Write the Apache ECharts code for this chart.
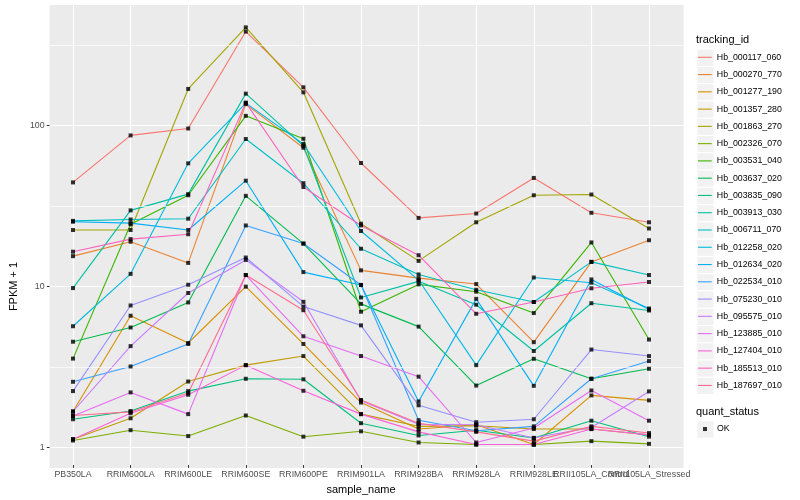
<!DOCTYPE html>
<html><head><meta charset="utf-8">
<script src="https://cdn.jsdelivr.net/npm/echarts@6/dist/echarts.min.js"></script>
<style>html,body{margin:0;padding:0;background:#fff}#c{width:800px;height:500px}</style>
</head><body><div id="c"></div>
<script>
// ---- data ----
const categories = ["PB350LA","RRIM600LA","RRIM600LE","RRIM600SE","RRIM600PE","RRIM901LA","RRIM928BA","RRIM928LA","RRIM928LE","RRII105LA_Control","RRII105LA_Stressed"];
const trackingIds = ["Hb_000117_060","Hb_000270_770","Hb_001277_190","Hb_001357_280","Hb_001863_270","Hb_002326_070","Hb_003531_040","Hb_003637_020","Hb_003835_090","Hb_003913_030","Hb_006711_070","Hb_012258_020","Hb_012634_020","Hb_022534_010","Hb_075230_010","Hb_095575_010","Hb_123885_010","Hb_127404_010","Hb_185513_010","Hb_187697_010"];
const Hb_000117_060 = [43.7, 86, 95, 384, 172, 57.8, 26.2, 27.9, 46.6, 28.2, 24.6];
const Hb_000270_770 = [15.1, 18.6, 13.7, 135, 72, 12.3, 11.0, 10.1, 4.37, 13.9, 19.0];
const Hb_001277_190 = [1.61, 6.4, 4.32, 9.73, 4.26, 1.83, 1.25, 1.33, 1.0, 2.03, 1.89];
const Hb_001357_280 = [1.08, 1.46, 2.48, 3.14, 3.58, 1.55, 1.3, 1.31, 1.25, 1.25, 1.15];
const Hb_001863_270 = [22.0, 22.0, 168, 408, 160, 24.1, 14.1, 24.6, 36.3, 36.7, 22.5];
const Hb_002326_070 = [1.06, 1.23, 1.13, 1.52, 1.12, 1.21, 1.03, 1.0, 1.0, 1.05, 1.01];
const Hb_003531_040 = [3.45, 23.9, 36.3, 114, 82, 6.78, 10.05, 9.05, 6.65, 18.4, 4.54];
const Hb_003637_020 = [4.4, 5.4, 7.75, 36, 18.1, 7.59, 5.47, 2.34, 3.44, 2.58, 2.98];
const Hb_003835_090 = [1.44, 1.62, 2.16, 2.58, 2.56, 1.36, 1.14, 1.23, 1.1, 1.41, 1.12];
const Hb_003913_030 = [9.53, 29.2, 36.9, 157, 74, 8.32, 10.5, 7.5, 3.85, 7.66, 6.9];
const Hb_006711_070 = [25.1, 25.6, 25.9, 81.7, 43.2, 16.8, 11.6, 9.3, 7.8, 13.9, 11.5];
const Hb_012258_020 = [5.5, 11.7, 57.5, 137, 76, 21.7, 10.7, 3.14, 11.1, 10.3, 7.1];
const Hb_012634_020 = [24.8, 24.3, 22.0, 44.8, 12.0, 9.97, 1.86, 8.16, 2.33, 10.8, 7.0];
const Hb_022534_010 = [2.47, 3.08, 4.26, 23.5, 18.1, 9.97, 1.42, 1.22, 1.3, 2.58, 3.33];
const Hb_075230_010 = [2.16, 7.42, 10.0, 14.8, 7.3, 5.57, 1.76, 1.38, 1.44, 3.93, 3.58];
const Hb_095575_010 = [1.61, 4.13, 8.88, 14.3, 7.82, 1.88, 1.34, 1.33, 1.1, 1.28, 2.15];
const Hb_123885_010 = [1.51, 2.12, 1.55, 11.5, 4.76, 3.58, 2.66, 1.03, 1.27, 2.18, 1.41];
const Hb_127404_010 = [1.08, 1.57, 2.05, 3.14, 2.17, 1.55, 1.2, 1.0, 1.0, 1.25, 1.15];
const Hb_185513_010 = [16.1, 19.3, 20.7, 138, 40.9, 23.5, 15.3, 6.58, 7.8, 9.5, 10.4];
const Hb_187697_010 = [1.52, 1.6, 2.1, 11.5, 6.93, 1.9, 1.36, 1.2, 1.05, 1.3, 1.18];
const seriesValues = [Hb_000117_060,Hb_000270_770,Hb_001277_190,Hb_001357_280,Hb_001863_270,Hb_002326_070,Hb_003531_040,Hb_003637_020,Hb_003835_090,Hb_003913_030,Hb_006711_070,Hb_012258_020,Hb_012634_020,Hb_022534_010,Hb_075230_010,Hb_095575_010,Hb_123885_010,Hb_127404_010,Hb_185513_010,Hb_187697_010];
const quantStatus = ["OK"];
const yTickValues = [1, 10, 100];
const yMinorBreaks = [3.1623, 31.623, 316.23];

// ---- styles ----
const palette = ["#F8766D","#EA8331","#D89000","#C09B00","#A3A500","#7CAE00","#39B600","#00BB4E","#00BF7D","#00C1A3","#00BFC4","#00BAE0","#00B0F6","#35A2FF","#9590FF","#C77CFF","#E76BF3","#FA62DB","#FF62BC","#FF6C91"];
const FONT = '"Liberation Sans", Arial, Helvetica, sans-serif';
const W = 800, H = 500;
const panel = {left: 38.4, right: 683.6, top: 5, bottom: 468};
const firstCat = 73, lastCat = 649;
const yMin = 0.7436, yMax = 563.2;
const keyH = 17.27, keyTop = 48.66, keyLeft = 696.3, okTop = 420.4;

const chart = echarts.init(document.getElementById('c'), null, {renderer: 'canvas', width: W, height: H});

const lineSeries = trackingIds.map((id, k) => ({
  type: 'line', name: id, xAxisIndex: 1, yAxisIndex: 1,
  data: seriesValues[k], symbol: 'none', showSymbol: false,
  color: palette[k],
  lineStyle: {width: 1.1, color: palette[k]},
  itemStyle: {color: palette[k]},
  emphasis: {disabled: true}, silent: true, z: 3, animation: false
}));
const pointData = [];
seriesValues.forEach(vals => vals.forEach((v, i) => pointData.push([categories[i], v])));
const pointSeries = {
  type: 'scatter', name: quantStatus[0], xAxisIndex: 1, yAxisIndex: 1,
  data: pointData, symbol: 'rect', symbolSize: 4,
  itemStyle: {color: '#000'}, emphasis: {disabled: true}, silent: true, z: 5, animation: false
};
const minorGridSeries = {
  type: 'line', name: '_minor', xAxisIndex: 0, yAxisIndex: 0, data: [],
  silent: true, animation: false, z: 1,
  markLine: {
    silent: true, symbol: 'none', animation: false, label: {show: false},
    lineStyle: {color: '#ffffff', width: 0.7, type: 'solid'},
    emphasis: {disabled: true},
    data: yMinorBreaks.map(v => ({yAxis: v}))
  }
};

const graphics = [];
for (let i = 0; i < trackingIds.length; i++) {
  graphics.push({type: 'rect', left: keyLeft, top: keyTop + keyH * i, z: 0, silent: true,
    shape: {width: keyH, height: keyH}, style: {fill: '#F2F2F2', stroke: '#ffffff', lineWidth: 1}});
}
graphics.push({type: 'rect', left: keyLeft, top: okTop, z: 0, silent: true,
  shape: {width: keyH, height: keyH}, style: {fill: '#F2F2F2', stroke: '#ffffff', lineWidth: 1}});

const option = {
  animation: false,
  backgroundColor: '#ffffff',
  textStyle: {fontFamily: FONT},
  title: [
    {text: 'tracking_id', left: 696, top: 34.5, padding: 0,
      textStyle: {fontSize: 11, fontWeight: 'normal', color: '#000', fontFamily: FONT}},
    {text: 'quant_status', left: 696, top: 406, padding: 0,
      textStyle: {fontSize: 11, fontWeight: 'normal', color: '#000', fontFamily: FONT}}
  ],
  grid: [
    {left: panel.left, right: W - panel.right, top: panel.top, bottom: H - panel.bottom,
      show: true, backgroundColor: '#EBEBEB', borderWidth: 0, containLabel: false},
    {left: firstCat, right: W - lastCat, top: panel.top, bottom: H - panel.bottom,
      show: false, containLabel: false}
  ],
  xAxis: [
    {type: 'value', gridIndex: 0, min: 0, max: 1, show: false},
    {type: 'category', gridIndex: 1, data: categories, boundaryGap: false,
      name: 'sample_name', nameLocation: 'middle', nameGap: 15,
      nameTextStyle: {fontSize: 11, color: '#000', fontFamily: FONT},
      axisLine: {show: false},
      axisTick: {show: true, length: 2.75, interval: 0, lineStyle: {color: '#333333', width: 1}},
      axisLabel: {interval: 0, fontSize: 8.8, color: '#4D4D4D', margin: 5, fontFamily: FONT, hideOverlap: false},
      splitLine: {show: true, interval: 0, lineStyle: {color: '#ffffff', width: 1.2}}}
  ],
  yAxis: [
    {type: 'log', gridIndex: 0, min: yMin, max: yMax, logBase: 10,
      name: 'FPKM + 1', nameLocation: 'middle', nameGap: 22, nameRotate: 90,
      nameTextStyle: {fontSize: 11, color: '#000', fontFamily: FONT, padding: [0, 100, 0, 0]},
      axisLine: {show: false},
      axisTick: {show: true, length: 2.75, customValues: yTickValues, lineStyle: {color: '#333333', width: 1}},
      axisLabel: {fontSize: 8.8, color: '#4D4D4D', margin: 5, customValues: yTickValues, fontFamily: FONT},
      splitLine: {show: true, lineStyle: {color: '#ffffff', width: 1.2}},
      minorSplitLine: {show: false}},
    {type: 'log', gridIndex: 1, min: yMin, max: yMax, logBase: 10, show: false,
      splitLine: {show: false}}
  ],
  legend: [
    {data: trackingIds, orient: 'vertical', left: 698, top: keyTop, padding: 0, itemGap: 0,
      icon: 'rect', itemWidth: 13.8, itemHeight: 1.1, selectedMode: false,
      textStyle: {fontSize: 8.8, color: '#000', fontFamily: FONT, lineHeight: keyH}},
    {data: quantStatus, orient: 'vertical', left: 703, top: okTop, padding: 0, itemGap: 0,
      itemWidth: 4, itemHeight: 4, icon: 'rect', selectedMode: false,
      textStyle: {fontSize: 8.8, color: '#000', fontFamily: FONT, lineHeight: keyH, padding: [0, 0, 0, 5]}}
  ],
  graphic: graphics,
  series: [minorGridSeries, ...lineSeries, pointSeries]
};
chart.setOption(option);
</script>
</body></html>
